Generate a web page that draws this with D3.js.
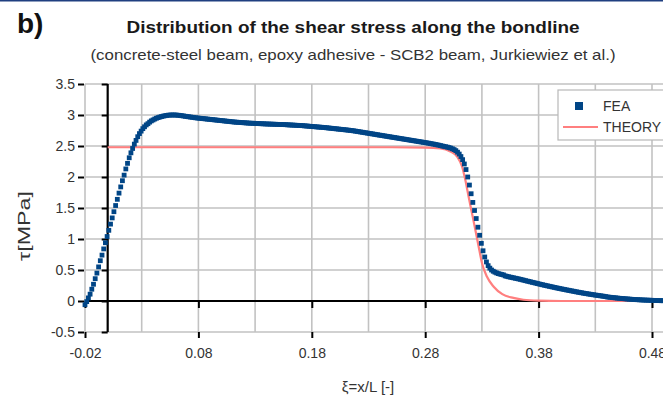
<!DOCTYPE html>
<html>
<head>
<meta charset="utf-8">
<script src="https://cdn.jsdelivr.net/npm/d3@7"></script>
<style>
  body { margin: 0; background: #fff; }
  svg { display: block; font-family: "Liberation Sans", Arial, sans-serif; }
</style>
</head>
<body>
<div id="chart"></div>
<script>
// Shear stress along the bondline - FEA vs theory

// FEA samples: first xi and spacing, then tau [MPa]
const feaStart = -0.02;
const feaStep = 0.0015;
const feaTau = [
  -0.06, -0.01, 0.05, 0.11, 0.19, 0.27, 0.36, 0.45, 0.55, 0.65,
  0.74, 0.84, 0.94, 1.04, 1.14, 1.24, 1.34, 1.44, 1.54, 1.64,
  1.74, 1.84, 1.94, 2.03, 2.13, 2.22, 2.31, 2.39, 2.46, 2.53,
  2.59, 2.65, 2.70, 2.74, 2.78, 2.81, 2.84, 2.86, 2.885, 2.905,
  2.92, 2.935, 2.948, 2.958, 2.967, 2.975, 2.982, 2.988, 2.993, 2.997,
  2.999, 3.0, 3.0, 3.0, 2.998, 2.995, 2.992, 2.988, 2.984, 2.979,
  2.975, 2.971, 2.967, 2.963, 2.959, 2.955, 2.952, 2.949, 2.946, 2.943,
  2.94, 2.937, 2.934, 2.931, 2.928, 2.925, 2.922, 2.919, 2.916, 2.913,
  2.91, 2.907, 2.904, 2.901, 2.898, 2.895, 2.892, 2.889, 2.886, 2.884,
  2.882, 2.88, 2.878, 2.876, 2.874, 2.872, 2.87, 2.868, 2.867, 2.866,
  2.865, 2.863, 2.862, 2.86, 2.859, 2.858, 2.856, 2.855, 2.854, 2.853,
  2.852, 2.851, 2.85, 2.849, 2.848, 2.847, 2.846, 2.845, 2.844, 2.842,
  2.84, 2.839, 2.837, 2.836, 2.834, 2.833, 2.831, 2.83, 2.828, 2.825,
  2.823, 2.821, 2.818, 2.816, 2.813, 2.811, 2.809, 2.806, 2.804, 2.802,
  2.80, 2.797, 2.794, 2.791, 2.788, 2.785, 2.782, 2.779, 2.776, 2.773,
  2.77, 2.767, 2.764, 2.761, 2.758, 2.755, 2.751, 2.748, 2.744, 2.74,
  2.735, 2.731, 2.726, 2.722, 2.717, 2.713, 2.708, 2.704, 2.699, 2.695,
  2.69, 2.685, 2.681, 2.676, 2.672, 2.667, 2.663, 2.658, 2.654, 2.649,
  2.645, 2.64, 2.636, 2.631, 2.627, 2.622, 2.618, 2.613, 2.609, 2.604,
  2.60, 2.595, 2.591, 2.586, 2.582, 2.577, 2.573, 2.568, 2.564, 2.559,
  2.555, 2.55, 2.545, 2.54, 2.535, 2.53, 2.525, 2.519, 2.513, 2.507,
  2.50, 2.494, 2.488, 2.482, 2.475, 2.466, 2.455, 2.442, 2.425, 2.40,
  2.37, 2.33, 2.28, 2.21, 2.12, 2.00, 1.87, 1.73, 1.59, 1.46,
  1.33, 1.19, 1.06, 0.93, 0.81, 0.71, 0.63, 0.57, 0.53, 0.50,
  0.48, 0.465, 0.452, 0.442, 0.434, 0.427, 0.421, 0.405, 0.398, 0.391,
  0.385, 0.379, 0.373, 0.367, 0.361, 0.355, 0.349, 0.342, 0.335, 0.328,
  0.321, 0.315, 0.308, 0.301, 0.295, 0.288, 0.281, 0.275, 0.268, 0.262,
  0.255, 0.249, 0.243, 0.237, 0.231, 0.225, 0.219, 0.213, 0.207, 0.201,
  0.196, 0.19, 0.185, 0.179, 0.174, 0.168, 0.163, 0.158, 0.152, 0.147,
  0.142, 0.137, 0.132, 0.127, 0.122, 0.118, 0.113, 0.109, 0.104, 0.10,
  0.096, 0.092, 0.088, 0.084, 0.08, 0.076, 0.072, 0.065, 0.062, 0.059,
  0.056, 0.053, 0.05, 0.047, 0.044, 0.042, 0.039, 0.037, 0.034, 0.032,
  0.03, 0.028, 0.026, 0.024, 0.022, 0.021, 0.019, 0.018, 0.016, 0.015,
  0.014, 0.013, 0.012, 0.011, 0.01, 0.009, 0.008, 0.007, 0.006, 0.005,
  0.005
];

// Theory curve
const theoryXi = [0, 0.25, 0.28, 0.2933, 0.3022, 0.3081, 0.3125, 0.3154, 0.3183, 0.3213,
                  0.3242, 0.3271, 0.3301, 0.3345, 0.3404, 0.348, 0.3578, 0.3666, 0.38, 0.40, 0.52];
const theoryTau = [2.48, 2.48, 2.475, 2.46, 2.41, 2.33, 2.17, 1.95, 1.68, 1.41,
                   1.15, 0.88, 0.61, 0.39, 0.23, 0.11, 0.05, 0.02, 0.005, 0, 0];

// Axis ticks
const xTicks = [-0.02, 0.08, 0.18, 0.28, 0.38, 0.48];
const xGrid = [-0.02, 0.03, 0.08, 0.13, 0.18, 0.23, 0.28, 0.33, 0.38, 0.43, 0.48, 0.53];
const yTicks = [-0.5, 0, 0.5, 1, 1.5, 2, 2.5, 3, 3.5];

const width = 663;
const height = 398;

const svg = d3.select("#chart").append("svg")
    .attr("width", width)
    .attr("height", height);

svg.append("rect").attr("width", width).attr("height", height).attr("fill", "#fff");
svg.append("rect").attr("width", width).attr("height", 1.5).attr("fill", "#1f3f80");

const x = d3.scaleLinear().domain([-0.02, 0.48]).range([85, 652]);
const y = d3.scaleLinear().domain([-0.5, 3.5]).range([332, 84]);

// gridlines
const grid = svg.append("g").attr("stroke", "#c2c2c2").attr("stroke-width", 1.6);
grid.selectAll(".gx").data(xGrid).join("line")
    .attr("x1", d => x(d)).attr("x2", d => x(d))
    .attr("y1", y(3.5)).attr("y2", y(-0.5));
grid.selectAll(".gy").data(yTicks).join("line")
    .attr("x1", x(-0.02)).attr("x2", width)
    .attr("y1", d => y(d)).attr("y2", d => y(d));

function styleAxis(g) {
    g.select(".domain").remove();
    g.selectAll(".tick line").attr("stroke", "#000").attr("stroke-width", 2);
    g.selectAll(".tick text").attr("fill", "#333").attr("font-size", "14px")
        .attr("font-family", "Liberation Sans, Arial, sans-serif");
}

// outer axes
svg.append("g")
    .attr("transform", `translate(0,${y(-0.5)})`)
    .call(d3.axisBottom(x).tickValues(xTicks).tickSize(6).tickPadding(10).tickFormat(d => d.toFixed(2)))
    .call(styleAxis);

svg.append("g")
    .attr("transform", `translate(${x(-0.02) - 1},0)`)
    .call(d3.axisLeft(y).tickValues(yTicks).tickSize(6).tickPadding(3).tickFormat(d => String(d)))
    .call(styleAxis);

// bold zero axes
svg.append("line")
    .attr("x1", x(0)).attr("x2", x(0))
    .attr("y1", y(3.5)).attr("y2", y(-0.5))
    .attr("stroke", "#000").attr("stroke-width", 2.2);
svg.append("g")
    .attr("transform", `translate(${x(0)},0)`)
    .call(d3.axisLeft(y).tickValues(yTicks).tickSize(6).tickFormat(""))
    .call(styleAxis);

svg.append("line")
    .attr("x1", x(-0.02)).attr("x2", width)
    .attr("y1", y(0)).attr("y2", y(0))
    .attr("stroke", "#000").attr("stroke-width", 2.2);
svg.append("g")
    .attr("transform", `translate(0,${y(0)})`)
    .call(d3.axisBottom(x).tickValues(xTicks).tickSize(7).tickFormat(""))
    .call(styleAxis);

// theory line
const theoryData = theoryXi.map((d, i) => [d, theoryTau[i]]);
svg.append("path")
    .datum(theoryData)
    .attr("fill", "none")
    .attr("stroke", "#ff7f7f")
    .attr("stroke-width", 2.2)
    .attr("d", d3.line().x(d => x(d[0])).y(d => y(d[1])).curve(d3.curveMonotoneX));

// FEA markers
const feaData = feaTau.map((t, i) => [feaStart + i * feaStep, t]);
const ms = 4.8;
svg.append("g").selectAll("rect").data(feaData).join("rect")
    .attr("x", d => x(d[0]) - ms / 2)
    .attr("y", d => y(d[1]) - ms / 2)
    .attr("width", ms).attr("height", ms)
    .attr("fill", "#004586");

// legend
const legend = svg.append("g");
legend.append("rect")
    .attr("x", 558).attr("y", 90).attr("width", 130).attr("height", 50)
    .attr("fill", "#fff").attr("stroke", "#b8b8b8").attr("stroke-width", 1.2);
legend.append("rect")
    .attr("x", 575).attr("y", 102).attr("width", 8).attr("height", 8)
    .attr("fill", "#004586");
legend.append("text").attr("x", 603).attr("y", 111)
    .attr("font-size", "14px").attr("fill", "#333").text("FEA");
legend.append("line")
    .attr("x1", 563).attr("x2", 598).attr("y1", 127).attr("y2", 127)
    .attr("stroke", "#ff7f7f").attr("stroke-width", 2.2);
legend.append("text").attr("x", 603).attr("y", 132)
    .attr("font-size", "14px").attr("fill", "#333").text("THEORY");

// titles
svg.append("text").attr("x", 17).attr("y", 33)
    .attr("font-size", "28px").attr("font-weight", "bold").attr("fill", "#111").text("b)");
svg.append("text").attr("x", 353).attr("y", 33).attr("text-anchor", "middle")
    .attr("font-size", "16px").attr("font-weight", "bold").attr("fill", "#1a1a1a")
    .attr("textLength", 453).attr("lengthAdjust", "spacingAndGlyphs")
    .text("Distribution of the shear stress along the bondline");
svg.append("text").attr("x", 353).attr("y", 60).attr("text-anchor", "middle")
    .attr("font-size", "14.5px").attr("fill", "#333")
    .attr("textLength", 525).attr("lengthAdjust", "spacingAndGlyphs")
    .text("(concrete-steel beam, epoxy adhesive - SCB2 beam, Jurkiewiez et al.)");

svg.append("text").attr("x", 368).attr("y", 392).attr("text-anchor", "middle")
    .attr("font-size", "15px").attr("fill", "#333").text("ξ=x/L [-]");

svg.append("text")
    .attr("transform", "translate(30,226) rotate(-90)")
    .attr("text-anchor", "middle")
    .attr("font-size", "17px").attr("fill", "#333")
    .attr("textLength", 70).attr("lengthAdjust", "spacingAndGlyphs")
    .text("τ[MPa]");
</script>
</body>
</html>
